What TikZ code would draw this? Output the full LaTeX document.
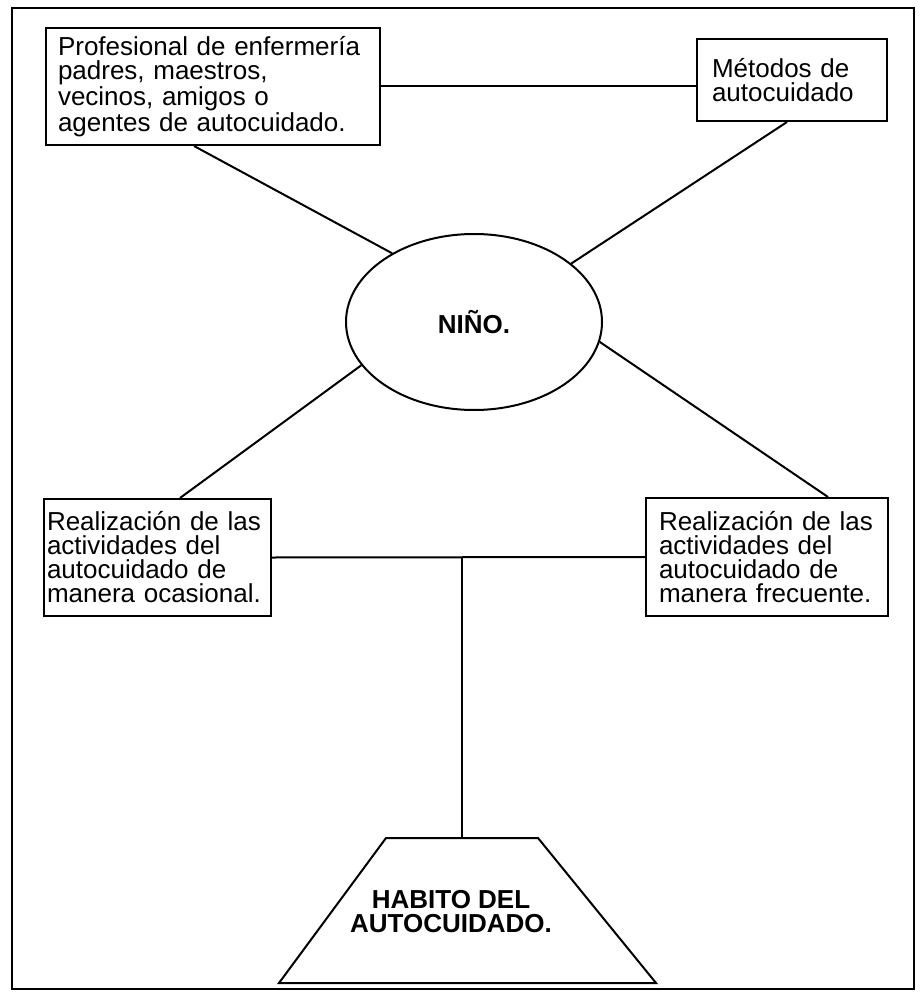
\documentclass[tikz,border=0pt]{standalone}
\usepackage{fontspec}
\setmainfont{Liberation Sans}
\usetikzlibrary{shapes.geometric}

\begin{document}
\begin{tikzpicture}[x=0.5pt, y=-0.5pt, line width=1pt,
squarednode/.style={rectangle, draw=black, align=left, font=\fontsize{13}{12}\selectfont},
roundnode/.style={ellipse, draw=black, minimum width=128pt, minimum height=88pt, inner sep=0pt, font=\fontsize{13}{12}\selectfont\bfseries},
basenode/.style={align=center, font=\fontsize{13}{12}\selectfont\bfseries},
]
\useasboundingbox (0,0) rectangle (924,994);
\draw[line width=1.2pt] (12,8) rectangle (914,989);

%Nodes
\node[squarednode, text width=155pt, inner xsep=6pt, minimum height=58.5pt](Agentes) at (213,86.5){Profesional de enfermería\\ padres, maestros,\\ vecinos, amigos o\\ agentes de autocuidado.};
\node[squarednode, text width=80pt, inner xsep=7.5pt, minimum height=41pt](Metodos) at (792,80){Métodos de\\ autocuidado};
\node[roundnode](Nino) at (474,322){NIÑO.};
\node[squarednode, text width=110.5pt, inner xsep=1.5pt, minimum height=58.5pt](Ocasional) at (157.5,557.5){Realización de las\\ actividades del\\ autocuidado de\\ manera ocasional.};
\node[squarednode, text width=108pt, inner xsep=6.5pt, minimum height=59pt](Frecuente) at (767,557){Realización de las\\ actividades del\\ autocuidado de\\ manera frecuente.};

%Base
\draw (386,838) -- (538,838) -- (656,983) -- (279,983) -- cycle;
\coordinate (HabitoTop) at (462,838);
\node[basenode](Habito) at (451,912){HABITO DEL\\ AUTOCUIDADO.};

%Lines
\draw (Agentes.east) -- (Agentes.east -| Metodos.west);
\draw ([xshift=-9.5pt]Agentes.south) -- (Nino.140);
\draw ([xshift=-2.5pt]Metodos.south) -- (Nino.31);
\draw (Nino.201) -- ([xshift=11.25pt]Ocasional.north);
\draw (Nino.351) -- ([xshift=30.5pt]Frecuente.north);
\draw (Ocasional.east) -- (Frecuente.west);
\draw (HabitoTop) -- (HabitoTop |- Ocasional.east);
\end{tikzpicture}
\end{document}
